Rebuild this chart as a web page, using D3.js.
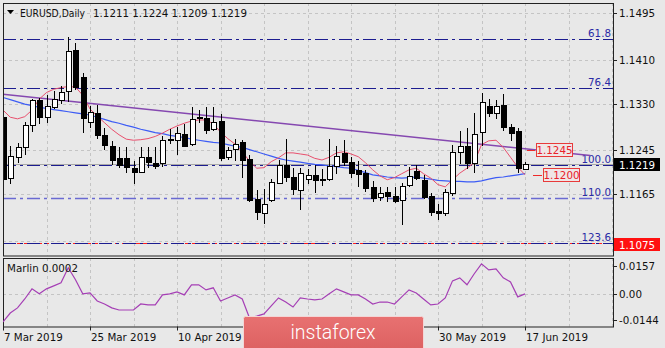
<!DOCTYPE html>
<html><head><meta charset="utf-8">
<script src="https://cdn.jsdelivr.net/npm/d3@7"></script>
<style>
html,body{margin:0;padding:0;background:#e8e8e8;overflow:hidden;}
svg{display:block;font-family:"DejaVu Sans",sans-serif;}
</style></head><body>
<svg id="c" width="665" height="348"></svg>
<script>
// ---------- DATA ----------
const dates = ["2019-03-07","2019-03-08","2019-03-11","2019-03-12","2019-03-13","2019-03-14","2019-03-15","2019-03-18","2019-03-19","2019-03-20","2019-03-21","2019-03-22","2019-03-25","2019-03-26","2019-03-27","2019-03-28","2019-03-29",
"2019-04-01","2019-04-02","2019-04-03","2019-04-04","2019-04-05","2019-04-08","2019-04-09","2019-04-10","2019-04-11","2019-04-12","2019-04-15","2019-04-16","2019-04-17","2019-04-18","2019-04-19","2019-04-22","2019-04-23","2019-04-24","2019-04-25","2019-04-26","2019-04-29","2019-04-30",
"2019-05-01","2019-05-02","2019-05-03","2019-05-06","2019-05-07","2019-05-08","2019-05-09","2019-05-10","2019-05-13","2019-05-14","2019-05-15","2019-05-16","2019-05-17","2019-05-20","2019-05-21","2019-05-22","2019-05-23","2019-05-24","2019-05-27","2019-05-28","2019-05-29","2019-05-30","2019-05-31",
"2019-06-03","2019-06-04","2019-06-05","2019-06-06","2019-06-07","2019-06-10","2019-06-11","2019-06-12","2019-06-13","2019-06-14","2019-06-17"];
const open  = [1.1306,1.1194,1.1233,1.1250,1.1290,1.1336,1.1305,1.1324,1.1337,1.1353,1.1428,1.1378,1.1296,1.1313,1.1273,1.1253,1.1231,1.1231,1.1212,1.1205,1.1232,1.1221,1.1222,1.1264,1.1264,1.1275,1.1256,1.1306,1.1303,1.1283,1.1298,1.1233,1.1247,1.1259,1.1229,1.1156,1.1130,1.1154,1.1185,1.1218,1.1196,1.1172,1.1192,1.1199,1.1191,1.1192,1.1216,1.1240,1.1224,1.1209,1.1203,1.1178,1.1160,1.1169,1.1162,1.1154,1.1181,1.1207,1.1190,1.1161,1.1134,1.1130,1.1167,1.1242,1.1252,1.1222,1.1278,1.1325,1.1313,1.1327,1.1287,1.1280,1.1211];
const high  = [1.1316,1.1253,1.1258,1.1296,1.1339,1.1340,1.1345,1.1352,1.1362,1.1451,1.1440,1.1386,1.1325,1.1327,1.1286,1.1262,1.1251,1.1251,1.1225,1.1251,1.1251,1.1251,1.1270,1.1284,1.1288,1.1292,1.1323,1.1318,1.1323,1.1324,1.1310,1.1251,1.1265,1.1264,1.1236,1.1173,1.1174,1.1193,1.1227,1.1265,1.1212,1.1212,1.1211,1.1217,1.1210,1.1265,1.1252,1.1264,1.1233,1.1226,1.1208,1.1188,1.1177,1.1178,1.1178,1.1185,1.1215,1.1217,1.1199,1.1166,1.1147,1.1175,1.1255,1.1279,1.1285,1.1313,1.1349,1.1338,1.1337,1.1347,1.1292,1.1285,1.1224];
const low   = [1.1176,1.1184,1.1222,1.1237,1.1278,1.1292,1.1294,1.1320,1.1329,1.1333,1.1355,1.1276,1.1285,1.1265,1.1245,1.1218,1.1213,1.1204,1.1184,1.1203,1.1213,1.1210,1.1215,1.1257,1.1236,1.1250,1.1252,1.1295,1.1275,1.1279,1.1226,1.1227,1.1226,1.1194,1.1150,1.1118,1.1111,1.1150,1.1184,1.1187,1.1164,1.1136,1.1183,1.1167,1.1180,1.1189,1.1201,1.1216,1.1194,1.1177,1.1168,1.1150,1.1152,1.1150,1.1149,1.1108,1.1177,1.1190,1.1155,1.1125,1.1118,1.1124,1.1161,1.1220,1.1210,1.1203,1.1253,1.1305,1.1302,1.1280,1.1262,1.1203,1.1209];
const close = [1.1193,1.1235,1.1250,1.1290,1.1336,1.1305,1.1325,1.1338,1.1351,1.1426,1.1360,1.1304,1.1314,1.1273,1.1254,1.1227,1.1218,1.1214,1.1205,1.1232,1.1223,1.1216,1.1263,1.1266,1.1277,1.1253,1.1302,1.1304,1.1282,1.1296,1.1231,1.1245,1.1257,1.1227,1.1154,1.1132,1.1147,1.1187,1.1218,1.1196,1.1174,1.1203,1.1199,1.1191,1.1193,1.1216,1.1234,1.1223,1.1204,1.1202,1.1176,1.1158,1.1167,1.1162,1.1153,1.1180,1.1198,1.1194,1.1160,1.1133,1.1130,1.1168,1.1241,1.1252,1.1222,1.1275,1.1332,1.1313,1.1325,1.1287,1.1276,1.1212,1.1219];
const maFast = [1.1318,1.1305,1.1302,1.1306,1.1318,1.1338,1.1350,1.1356,1.1359,1.1361,1.1360,1.1345,1.1320,1.1307,1.1295,1.1283,1.1273,1.1265,1.1263,1.1264,1.1266,1.1270,1.1276,1.1283,1.1289,1.1294,1.1298,1.1300,1.1300,1.1293,1.1278,1.1266,1.1256,1.1242,1.1225,1.1212,1.1213,1.1224,1.1231,1.1240,1.1240,1.1238,1.1236,1.1230,1.1227,1.1232,1.1240,1.1242,1.1238,1.1233,1.1222,1.1209,1.1198,1.1191,1.1195,1.1202,1.1209,1.1212,1.1202,1.1194,1.1182,1.1178,1.1191,1.1203,1.1212,1.1222,1.1255,1.1262,1.1263,1.1250,1.1232,1.1214,1.1200];
const maSlow = [1.1341,1.1337,1.1333,1.1329,1.1326,1.1323,1.1321,1.1319,1.1317,1.1315,1.1313,1.1311,1.1309,1.1305,1.1301,1.1297,1.1294,1.1290,1.1287,1.1283,1.1280,1.1277,1.1275,1.1272,1.1270,1.1268,1.1265,1.1263,1.1261,1.1259,1.1258,1.1255,1.1252,1.1250,1.1246,1.1242,1.1238,1.1234,1.1230,1.1227,1.1225,1.1223,1.1221,1.1219,1.1218,1.1216,1.1215,1.1213,1.1212,1.1208,1.1204,1.1200,1.1198,1.1196,1.1195,1.1194,1.1195,1.1196,1.1194,1.1192,1.1190,1.1189,1.1188,1.1188,1.1187,1.1187,1.1189,1.1192,1.1195,1.1196,1.1198,1.1200,1.1202];
const marlin = [-0.0156,-0.0106,-0.0077,-0.0027,0.0030,0.0002,0.0030,0.0047,0.0064,0.0149,0.0081,0.0002,0.0007,-0.0038,-0.0055,-0.0077,-0.0089,-0.0089,-0.0089,-0.0055,-0.0060,-0.0060,-0.0004,0.0002,0.0013,-0.0004,0.0053,0.0053,0.0024,0.0036,-0.0038,-0.0021,-0.0004,-0.0027,-0.0134,-0.0123,-0.0111,-0.0066,-0.0021,-0.0044,-0.0072,-0.0021,-0.0027,-0.0032,-0.0027,0.0002,0.0030,0.0013,-0.0004,-0.0004,-0.0027,-0.0055,-0.0044,-0.0044,-0.0055,-0.0015,0.0024,0.0007,-0.0027,-0.0060,-0.0055,-0.0021,0.0075,0.0092,0.0053,0.0115,0.0171,0.0137,0.0143,0.0092,0.0069,-0.0015,0.0002];
const trendIdx = [0, 81];
const trendPrice = [1.1347, 1.1235];
const priceTicks = [1.1495, 1.1410, 1.1330, 1.1245, 1.1165, 1.1080];
const marlinTicks = [0.0157, 0.0, -0.0144];
const marlinTickLabels = ["0.0157", "0.00", "-0.0144"];
const dateTickIdx = [0, 12, 24, 36, 48, 60, 72];
const dateLabelIdx = [0, 12, 24, 60, 72];
const fibLabels = ["61.8", "76.4", "100.0", "110.0", "123.6"];
const fibPrices = [1.1447, 1.1358, 1.1218, 1.1157, 1.1076];
const bidPrice = 1.1219;
const alertPrice = 1.1075;
const notePrices = [1.1245, 1.1200];
const symbol = "EURUSD,Daily";
const indName = "Marlin";

// ---------- SCALES ----------
const svg = d3.select("#c");
const L = 3, R = 613, T = 3, B = 255.5;
const T2 = 258, B2 = 326.5;
const barW = 7.25;
const FS = 10.3;
const x = d3.scaleLinear().domain([0, (R - L) / barW]).range([L, R]);
const y = d3.scaleLinear().domain([1.1495, 1.1165]).range([13, 194]);
const y2 = d3.scaleLinear().domain([0.0157, -0.0144]).range([266.3, 319.8]);
const fmtDate = d3.timeFormat("%-d %b %Y"), parse = d3.timeParse("%Y-%m-%d");
const idx = d3.range(dates.length);

svg.append("rect").attr("width", 665).attr("height", 348).attr("fill", "#e8e8e8");

const defs = svg.append("defs");
defs.append("clipPath").attr("id", "cm").append("rect").attr("x", L).attr("y", T).attr("width", R - L).attr("height", B - T);
defs.append("clipPath").attr("id", "cs").append("rect").attr("x", L).attr("y", T2).attr("width", R - L).attr("height", B2 - T2);

const gridC = "#c4c4c4";
// vertical grid
const vg = d3.range(6, (R - L) / barW, 6);
[[T, B], [T2, B2]].forEach(([a, b]) => {
  svg.append("g").selectAll("line").data(vg).join("line")
    .attr("x1", d => Math.round(x(d)) + 0.5).attr("x2", d => Math.round(x(d)) + 0.5)
    .attr("y1", a).attr("y2", b).attr("stroke", gridC).attr("stroke-dasharray", "3,3");
});
// horizontal grid main
svg.append("g").selectAll("line").data(priceTicks).join("line")
  .attr("x1", L).attr("x2", R).attr("y1", d => Math.round(y(d)) + 0.5).attr("y2", d => Math.round(y(d)) + 0.5)
  .attr("stroke", gridC).attr("stroke-dasharray", "3,3");
svg.append("line").attr("x1", L).attr("x2", R).attr("y1", Math.round(y2(0)) + 0.5).attr("y2", Math.round(y2(0)) + 0.5)
  .attr("stroke", gridC).attr("stroke-dasharray", "3,3");

const gm = svg.append("g").attr("clip-path", "url(#cm)");

// bid line
gm.append("line").attr("x1", L).attr("x2", R).attr("y1", Math.round(y(bidPrice)) + 0.5).attr("y2", Math.round(y(bidPrice)) + 0.5)
  .attr("stroke", "#a8a8a8");
// alert red line
gm.append("line").attr("x1", L).attr("x2", R).attr("y1", Math.round(y(alertPrice)) + 0.5).attr("y2", Math.round(y(alertPrice)) + 0.5)
  .attr("stroke", "#ff2020").attr("stroke-dasharray", "4,3");
// fib lines
gm.append("g").selectAll("line").data(fibPrices).join("line")
  .attr("x1", L).attr("x2", R).attr("y1", d => Math.round(y(d)) + 0.5).attr("y2", d => Math.round(y(d)) + 0.5)
  .attr("stroke", (d, i) => i === 3 ? "#6a6ad2" : "#1c1c90").attr("stroke-width", (d, i) => i === 3 ? 1.4 : 1)
  .attr("stroke-dasharray", "13,4,3,4");
gm.append("g").selectAll("text").data(fibPrices).join("text")
  .attr("x", R - 2).attr("y", d => Math.round(y(d)) - 2).attr("text-anchor", "end")
  .attr("font-size", FS).attr("fill", "#2a2aa6").text((d, i) => fibLabels[i]);

// trend line
gm.append("line").attr("x1", x(trendIdx[0])).attr("y1", y(trendPrice[0])).attr("x2", x(trendIdx[1])).attr("y2", y(trendPrice[1]))
  .attr("stroke", "#8548b0").attr("stroke-width", 1.5);

// MAs
const line = d3.line().x((d, i) => x(i)).y(d => y(d));
gm.append("path").attr("d", line(maSlow)).attr("fill", "none").attr("stroke", "#3d5cf5").attr("stroke-width", 1.2);
gm.append("path").attr("d", line(maFast)).attr("fill", "none").attr("stroke", "#e8506e").attr("stroke-width", 1);

// candles
const cg = gm.append("g").attr("shape-rendering", "crispEdges");
cg.selectAll("line").data(idx).join("line")
  .attr("x1", i => Math.round(x(i)) + 0.5).attr("x2", i => Math.round(x(i)) + 0.5)
  .attr("y1", i => y(high[i])).attr("y2", i => y(low[i])).attr("stroke", "#000");
cg.selectAll("rect").data(idx).join("rect")
  .attr("x", i => Math.round(x(i)) - 2 + 0.5).attr("width", 5)
  .attr("y", i => Math.round(y(Math.max(open[i], close[i]))) + 0.5)
  .attr("height", i => Math.max(1, Math.round(y(Math.min(open[i], close[i]))) - Math.round(y(Math.max(open[i], close[i])))))
  .attr("fill", i => close[i] >= open[i] ? "#fff" : "#000").attr("stroke", "#000");

// note labels
const last = dates.length - 1;
const noteOff = [[2, 10, 11], [8, 17, 18]];
notePrices.forEach((p, k) => {
  const yy = Math.round(y(p)) + 0.5;
  const [a, b, c] = noteOff[k];
  svg.append("line").attr("x1", x(last) + a).attr("x2", x(last) + b).attr("y1", yy).attr("y2", yy).attr("stroke", "#ee2a2a");
  svg.append("rect").attr("x", Math.round(x(last) + c) + 0.5).attr("y", yy - 7).attr("width", 36).attr("height", 13)
    .attr("fill", "#efe6e6").attr("stroke", "#e83a3a");
  svg.append("text").attr("x", Math.round(x(last) + c) + 18.5).attr("y", yy + 3.5).attr("text-anchor", "middle")
    .attr("font-size", FS).attr("fill", "#e8202a").text(p.toFixed(4));
});

// header
svg.append("path").attr("d", "M7,10 L14,10 L10.5,14 Z").attr("fill", "#000");
const st = svg.append("text").attr("x", 20).attr("y", 17).attr("font-size", FS).attr("fill", "#111")
  .attr("textLength", 65).attr("lengthAdjust", "spacingAndGlyphs").text(symbol);
svg.append("text").attr("x", 93).attr("y", 17).attr("font-size", FS).attr("fill", "#111")
  .text([open[last], high[last], low[last], close[last]].map(v => v.toFixed(4)).join(" "));

// frames
svg.append("rect").attr("x", L + 0.5).attr("y", T + 0.5).attr("width", R - L).attr("height", B - T).attr("fill", "none").attr("stroke", "#222");
svg.append("rect").attr("x", L + 0.5).attr("y", T2 + 0.5).attr("width", R - L).attr("height", B2 - T2).attr("fill", "none").attr("stroke", "#222");

// right axis
const ax = svg.append("g");
ax.selectAll("line").data(priceTicks).join("line")
  .attr("x1", R + 0.5).attr("x2", R + 4).attr("y1", d => Math.round(y(d)) + 0.5).attr("y2", d => Math.round(y(d)) + 0.5).attr("stroke", "#222");
ax.selectAll("text").data(priceTicks.slice(0, 5)).join("text")
  .attr("x", R + 6).attr("y", d => y(d) + 4).attr("font-size", FS).attr("fill", "#111").text(d => d.toFixed(4));
// bid box
svg.append("rect").attr("x", R + 1).attr("y", Math.round(y(bidPrice)) - 6).attr("width", 46).attr("height", 13).attr("fill", "#000");
svg.append("text").attr("x", R + 6).attr("y", y(bidPrice) + 4.5).attr("font-size", FS).attr("fill", "#fff").text(bidPrice.toFixed(4));
// alert box
svg.append("rect").attr("x", R + 1).attr("y", Math.round(y(alertPrice)) - 5).attr("width", 46).attr("height", 13).attr("fill", "#ff1010");
svg.append("text").attr("x", R + 6).attr("y", y(alertPrice) + 5.5).attr("font-size", FS).attr("fill", "#fff").text(alertPrice.toFixed(4));

// indicator
const gs = svg.append("g").attr("clip-path", "url(#cs)");
gs.append("path").attr("d", d3.line().x((d, i) => x(i)).y(d => y2(d))(marlin)).attr("fill", "none").attr("stroke", "#a53fb5").attr("stroke-width", 1.2);
svg.append("text").attr("x", 7).attr("y", 272).attr("font-size", FS).attr("fill", "#111")
  .text(indName + " " + marlin[last].toFixed(4));
svg.append("g").selectAll("line").data(marlinTicks).join("line")
  .attr("x1", R + 0.5).attr("x2", R + 4).attr("y1", d => Math.round(y2(d)) + 0.5).attr("y2", d => Math.round(y2(d)) + 0.5).attr("stroke", "#222");
svg.append("g").selectAll("text").data(marlinTicks).join("text")
  .attr("x", R + 6).attr("y", d => y2(d) + 4).attr("font-size", FS).attr("fill", "#111").text((d, i) => marlinTickLabels[i]);

// date axis
svg.append("g").selectAll("line").data(dateTickIdx).join("line")
  .attr("x1", i => Math.round(x(i)) + 0.5).attr("x2", i => Math.round(x(i)) + 0.5).attr("y1", B2).attr("y2", B2 + 4).attr("stroke", "#222");
svg.append("g").selectAll("text").data(dateLabelIdx).join("text")
  .attr("x", i => Math.round(x(i)) + 1).attr("y", 341).attr("font-size", FS).attr("fill", "#111")
  .text(i => fmtDate(parse(dates[i])));

// watermark
const wm = svg.append("g");
const grad = defs.append("linearGradient").attr("id", "wg").attr("x1", 0).attr("x2", 0).attr("y1", 0).attr("y2", 1);
grad.append("stop").attr("offset", 0).attr("stop-color", "#e87171");
grad.append("stop").attr("offset", 1).attr("stop-color", "#dc6060");
wm.append("rect").attr("x", 243.5).attr("y", 316.5).attr("width", 180).attr("height", 36).attr("rx", 2)
  .attr("fill", "url(#wg)").attr("stroke", "#f3d6d6");
wm.append("text").attr("x", 333).attr("y", 339).attr("text-anchor", "middle")
  .attr("font-family", "Roboto, sans-serif").attr("font-weight", 300).attr("font-size", 19.5).attr("fill", "#fff").text("instaforex");
</script>
</body></html>
